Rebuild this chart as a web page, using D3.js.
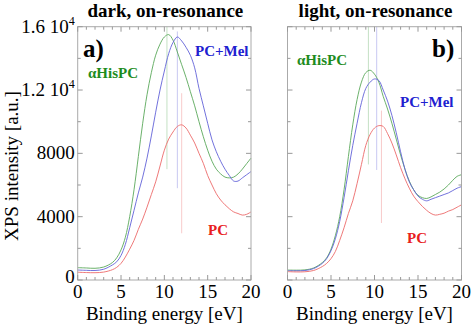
<!DOCTYPE html>
<html>
<head>
<meta charset="utf-8">
<script src="https://cdn.jsdelivr.net/npm/d3@7"></script>
<style>
  body { margin: 0; background: #fff; }
</style>
</head>
<body>
<div id="chart"></div>
<script>
// binding energy grid (eV)
var energy = [0, 1, 2, 3, 4, 4.5, 5, 5.5, 6, 6.5, 7, 7.5, 8, 8.5, 9, 9.5, 10, 10.5, 11, 11.5, 12,
              12.5, 13, 13.5, 14, 14.5, 15, 15.5, 16, 16.5, 17, 17.5, 18, 18.5, 19, 19.5, 20];

// dark, on-resonance
var darkHisPC = [780, 760, 740, 820, 1100, 1400, 1900, 2700, 4000, 5700, 7800, 9900, 11700, 13100, 14200, 14900, 15350, 15500, 15150, 14400, 13600,
                 12800, 11900, 11000, 10000, 9050, 8200, 7500, 7000, 6700, 6500, 6450, 6500, 6700, 7000, 7350, 7700];
var darkPCMel = [630, 610, 600, 680, 950, 1150, 1550, 2250, 3300, 4400, 5500, 6500, 7700, 9100, 10600, 12000, 13200, 14300, 15000, 15350, 15100,
                 14700, 14200, 13400, 12100, 11000, 9900, 8850, 8100, 7500, 7000, 6600, 6250, 6250, 6450, 6650, 6850];
var darkPC = [490, 470, 460, 500, 650, 800, 1050, 1450, 1950, 2500, 3200, 3850, 4600, 5400, 6200, 7200, 8200, 8900, 9350, 9700, 9800,
              9600, 9150, 8650, 8000, 7370, 6600, 6000, 5450, 5050, 4750, 4500, 4300, 4200, 4100, 4150, 4300];

// light, on-resonance
var lightHisPC = [630, 620, 640, 760, 1100, 1400, 1950, 2800, 4000, 5700, 7800, 9800, 11400, 12500, 13100, 13250, 13000, 12500, 11600, 10800, 9900,
                  8900, 7900, 7000, 6250, 5700, 5350, 5200, 5150, 5250, 5400, 5550, 5750, 6000, 6300, 6550, 6650];
var lightPCMel = [590, 580, 600, 720, 1050, 1350, 1850, 2600, 3700, 5200, 6900, 8500, 9900, 11200, 12100, 12500, 12700, 12600, 12000, 11300, 10400,
                  9300, 8100, 7000, 6200, 5700, 5300, 5100, 5000, 5100, 5200, 5300, 5400, 5500, 5650, 5800, 5900];
var lightPC = [530, 510, 520, 600, 850, 1050, 1350, 1800, 2500, 3300, 4200, 5000, 6100, 7300, 8500, 9200, 9600, 9750, 9700, 9250, 8650,
               7900, 7100, 6400, 5800, 5300, 4950, 4650, 4400, 4200, 4100, 4150, 4220, 4350, 4450, 4600, 4750];

// peak markers: [energy, top, bottom]
var darkPeaks = [[10.3, 16000, 7000], [11.5, 15700, 5800], [12.0, 11800, 2950]];
var lightPeaks = [[9.3, 16000, 7300], [10.25, 16000, 6950], [10.8, 10700, 3600]];

var yLabels = [[0, "0"], [4000, "4000"], [8000, "8000"], [12000, "1.2 10", "4"], [16000, "1.6 10", "4"]];
var xLabels = [0, 5, 10, 15, 20];

var lineColors = ["#5aa85a", "#6262d8", "#ec6a6a"];
var textColors = ["#1e8c1e", "#2020d0", "#e82020"];
var serif = "'Liberation Serif', 'DejaVu Serif', serif";

var width = 472, height = 327;
var svg = d3.select("#chart").append("svg")
    .attr("width", width)
    .attr("height", height)
    .attr("font-family", serif);

var y = d3.scaleLinear().domain([0, 16000]).range([280, 26.7]);

function drawPanel(x0, x1, series, peaks, title, tag, tagX, labels, showY) {
    var x = d3.scaleLinear().domain([0, 20]).range([x0, x1]);
    var g = svg.append("g");

    // peak marker lines
    peaks.forEach(function(p, i) {
        g.append("line")
            .attr("x1", x(p[0])).attr("x2", x(p[0]))
            .attr("y1", y(p[1])).attr("y2", y(p[2]))
            .attr("stroke", lineColors[i])
            .attr("stroke-opacity", 0.35)
            .attr("stroke-width", 1);
    });

    var line = d3.line()
        .x(function(d) { return x(d[0]); })
        .y(function(d) { return y(d[1]); })
        .curve(d3.curveCatmullRom);

    series.forEach(function(s, i) {
        g.append("path")
            .datum(energy.map(function(e, k) { return [e, s[k]]; }))
            .attr("fill", "none")
            .attr("stroke", lineColors[i])
            .attr("stroke-width", 0.9)
            .attr("d", line);
    });

    // frame
    g.append("rect")
        .attr("x", x0).attr("y", y(16000))
        .attr("width", x1 - x0).attr("height", y(0) - y(16000))
        .attr("fill", "none")
        .attr("stroke", "#aaa");

    // inward ticks on all sides
    var xt = d3.range(0, 21, 1), yt = d3.range(0, 16001, 2000);
    xt.forEach(function(v) {
        var len = v % 5 === 0 ? 5 : 3;
        g.append("line").attr("x1", x(v)).attr("x2", x(v)).attr("y1", y(0)).attr("y2", y(0) - len).attr("stroke", "#999");
        g.append("line").attr("x1", x(v)).attr("x2", x(v)).attr("y1", y(16000)).attr("y2", y(16000) + len).attr("stroke", "#999");
    });
    yt.forEach(function(v) {
        var len = v % 4000 === 0 ? 5 : 3;
        g.append("line").attr("x1", x0).attr("x2", x0 + len).attr("y1", y(v)).attr("y2", y(v)).attr("stroke", "#999");
        g.append("line").attr("x1", x1).attr("x2", x1 - len).attr("y1", y(v)).attr("y2", y(v)).attr("stroke", "#999");
    });

    g.selectAll(".xl").data(xLabels).enter().append("text")
        .attr("x", function(d) { return x(d); })
        .attr("y", 298)
        .attr("text-anchor", "middle")
        .attr("font-size", 19)
        .text(function(d) { return d; });

    if (showY) {
        yLabels.forEach(function(d) {
            var t = g.append("text")
                .attr("x", x0 - 3)
                .attr("y", y(d[0]) + (d[0] === 0 ? 3 : 6))
                .attr("text-anchor", "end")
                .attr("font-size", 19)
                .text(d[1]);
            if (d[2]) {
                t.append("tspan").attr("font-size", 12).attr("dy", -8).text(d[2]);
            }
        });
    }

    g.append("text")
        .attr("x", (x0 + x1) / 2)
        .attr("y", 320)
        .attr("text-anchor", "middle")
        .attr("font-size", 19)
        .text("Binding energy [eV]");

    g.append("text")
        .attr("x", (x0 + x1) / 2 + 1)
        .attr("y", 17)
        .attr("text-anchor", "middle")
        .attr("font-size", 19)
        .attr("font-weight", "bold")
        .text(title);

    g.append("text")
        .attr("x", tagX)
        .attr("y", 57)
        .attr("font-size", 25)
        .attr("font-weight", "bold")
        .text(tag);

    labels.forEach(function(l, i) {
        g.append("text")
            .attr("x", l[0]).attr("y", l[1])
            .attr("font-size", 15)
            .attr("font-weight", "bold")
            .attr("fill", textColors[i])
            .text(l[2]);
    });
}

drawPanel(77.7, 251, [darkHisPC, darkPCMel, darkPC], darkPeaks, "dark, on-resonance", "a)", 83,
    [[88, 78, "\u03b1HisPC"], [195, 56, "PC+Mel"], [208, 235, "PC"]], true);
drawPanel(287.5, 461.5, [lightHisPC, lightPCMel, lightPC], lightPeaks, "light, on-resonance", "b)", 432,
    [[297, 65, "\u03b1HisPC"], [400, 107, "PC+Mel"], [407, 243, "PC"]], false);

svg.append("text")
    .attr("transform", "translate(18,166) rotate(-90)")
    .attr("text-anchor", "middle")
    .attr("font-size", 19)
    .text("XPS intensity [a.u.]");
</script>
</body>
</html>
